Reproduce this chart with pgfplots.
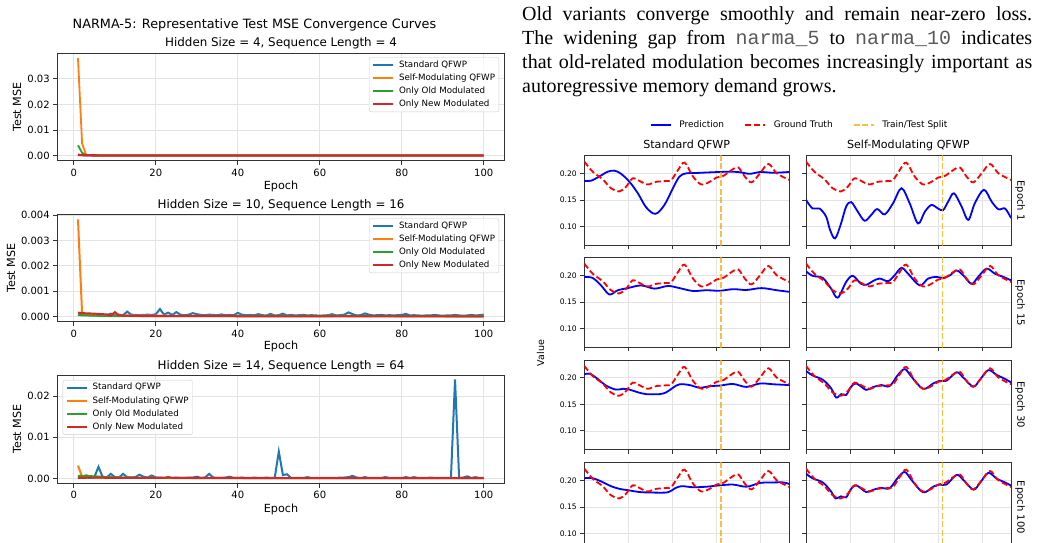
\documentclass[border=0pt]{standalone}
\usepackage{fontspec}
\setmainfont{DejaVu Sans}
\newfontfamily\seriffont{Liberation Serif}
\newfontfamily\monofont{Liberation Mono}
\usepackage{pgfplots}
\pgfplotsset{compat=1.18}
\usepackage{pgfplotstable}

\definecolor{tabblue}{HTML}{1F77B4}
\definecolor{taborange}{HTML}{FF7F0E}
\definecolor{tabgreen}{HTML}{2CA02C}
\definecolor{tabred}{HTML}{D62728}
\definecolor{splitc}{HTML}{FFA500}

% ---------- ground truth (shared by all right panels) ----------
\pgfplotstableread{
x y
0 0.222
3.8 0.203
8.3 0.189
12.1 0.172
15.9 0.166
19 0.175
22 0.1906
25.8 0.184
28.8 0.179
32.6 0.184
37.2 0.1856
39.5 0.1875
42.5 0.206
45.5 0.220
49.3 0.194
53.1 0.179
56.9 0.184
59.9 0.192
63 0.195
66.8 0.206
69.8 0.211
72.8 0.194
75.9 0.183
79.7 0.200
83.5 0.2175
87.3 0.200
93 0.1875
}\gt

\pgfplotstableread{
x y
0 0.186
3 0.186
6.8 0.194
10.6 0.203
13.7 0.205
16.7 0.199
20.5 0.184
24.3 0.1625
28.1 0.136
32.3 0.124
36.4 0.141
40.2 0.172
43.2 0.194
46.3 0.200
50.8 0.2006
58.4 0.202
66 0.203
70.6 0.202
75.1 0.199
79.7 0.2025
85.7 0.201
93 0.2025
}\pSa

\pgfplotstableread{
x y
0 0.150
3 0.134
6.1 0.134
9.1 0.119
10.9 0.094
13.2 0.078
15.9 0.106
18.2 0.1375
20.5 0.146
23.5 0.128
26.6 0.111
29.6 0.122
32.3 0.133
35.7 0.123
39.5 0.144
43.3 0.172
47 0.144
50.8 0.106
53.9 0.128
56.9 0.1406
59.9 0.134
62.2 0.131
64.5 0.147
67.1 0.1625
70.6 0.1375
73.6 0.1125
76.6 0.144
80.7 0.169
84.2 0.147
87.3 0.1325
90.3 0.134
93 0.116
}\pMa

\pgfplotstableread{
x y
0 0.197
3.8 0.195
7.6 0.181
11.4 0.164
15.2 0.172
19.7 0.176
25.8 0.181
31.9 0.175
37.9 0.180
43.2 0.176
49.3 0.1706
55.4 0.172
61.5 0.171
67.5 0.174
73.6 0.1725
80.4 0.176
87.3 0.172
93 0.169
}\pSb

\pgfplotstableread{
x y
0 0.2075
3 0.199
7.6 0.195
11.4 0.175
14.4 0.158
18.2 0.1875
21.2 0.199
25 0.184
27.6 0.1825
30.3 0.189
33.4 0.194
37.2 0.189
40.2 0.200
43.3 0.214
46.3 0.203
51.6 0.181
55.4 0.194
59.2 0.197
62.2 0.195
65.3 0.200
68.3 0.209
71.3 0.200
75.1 0.184
78.1 0.197
81.9 0.2125
85.7 0.203
89.5 0.197
93 0.1906
}\pMb

\pgfplotstableread{
x y
0 0.206
2.3 0.2075
5.3 0.200
9.9 0.185
14.4 0.1775
17.5 0.179
20.5 0.1775
24.3 0.1725
28.1 0.169
34.1 0.169
37.2 0.1725
40.2 0.181
43.2 0.1875
47.8 0.186
52.4 0.181
56.9 0.184
61.5 0.185
67.5 0.188
73.6 0.1825
79.7 0.189
85.7 0.1875
93 0.186
}\pSc

\pgfplotstableread{
x y
0 0.2125
3 0.204
7.6 0.196
11.4 0.180
13.7 0.1625
16 0.169
18.2 0.1675
20.5 0.183
22.8 0.189
27.3 0.177
30.3 0.182
34.1 0.186
37.9 0.184
41.7 0.205
44.8 0.216
47.8 0.202
53.1 0.179
57.7 0.189
60.7 0.194
63.7 0.194
68.3 0.210
71.3 0.200
75.9 0.183
78.9 0.196
82.7 0.214
86.5 0.205
90.3 0.1975
93 0.191
}\pMc

\pgfplotstableread{
x y
0 0.204
3.8 0.204
7.6 0.198
12.1 0.189
15.9 0.184
20.5 0.181
25 0.178
31.1 0.177
37.9 0.1775
40.9 0.1845
44 0.189
49.3 0.187
55.4 0.188
61.5 0.1906
67.5 0.192
73.6 0.188
79.7 0.195
85.7 0.196
90.3 0.196
93 0.193
}\pSd

\pgfplotstableread{
x y
0 0.2125
3 0.2037
7.6 0.196
11.4 0.179
13.4 0.166
15.9 0.170
18.2 0.168
20.5 0.184
22.8 0.1906
27.3 0.178
30.3 0.182
34.1 0.186
37.9 0.185
41.7 0.205
44.8 0.2156
47.8 0.201
53.1 0.1775
57.7 0.188
60.7 0.192
63.7 0.192
68.3 0.210
71.3 0.201
75.9 0.1825
78.9 0.195
82.7 0.214
86.5 0.203
90.3 0.196
93 0.190
}\pMd

\pgfplotsset{
  base/.style={scale only axis, axis line style={black!80, line width=1pt},
    every tick/.style={black!80, line width=0.9pt}, tick align=outside,
    xtick pos=left, ytick pos=left, grid=major,
    major grid style={gray!22, line width=0.8pt},
    /pgf/number format/assume math mode=true, clip=true},
  lft/.style={base, width=446.3pt, xmin=-3.95, xmax=104.95, xtick={0,20,...,100},
    major tick length=4.5pt,
    tick label style={font=\fontsize{10}{12}\selectfont}, scaled y ticks=false,
    legend cell align=left,
    legend style={draw=black!20, rounded corners=2pt, fill=white, fill opacity=0.8,
      text opacity=1, draw opacity=1, font=\fontsize{8.7}{10}\selectfont,
      inner xsep=3pt, inner ysep=2.5pt, row sep=3.4pt,
      nodes={inner sep=0.8pt, text height=6.4pt, text depth=1.8pt},
      /tikz/every odd column/.append style={column sep=4pt}},
    legend image code/.code={\draw[#1, line width=2pt] (0pt,0pt) -- (20pt,0pt);}},
  rgt/.style={base, width=205pt, height=89.6pt, xmin=0, xmax=93, ymin=0.065, ymax=0.233,
    xtick={0,20,40,60,80}, xticklabels={}, ytick={0.10,0.15,0.20},
    major tick length=4pt,
    yticklabel style={font=\fontsize{7.6}{9}\selectfont,
      /pgf/number format/fixed, /pgf/number format/fixed zerofill,
      /pgf/number format/precision=2}},
  pred/.style={blue, line width=1.8pt, smooth, tension=0.55},
  gtl/.style={red, line width=1.8pt, dash pattern=on 6pt off 3pt, smooth, tension=0.55},
  spl/.style={splitc, opacity=0.75, line width=1.6pt, dash pattern=on 6pt off 2.5pt},
}

\begin{document}
\begin{tikzpicture}
\useasboundingbox (0pt,0pt) rectangle (1038pt,-543pt);
\clip (0pt,0pt) rectangle (1038pt,-543pt);

% ================= LEFT: plot 1 =================
\begin{axis}[lft, at={(57.7pt,-53.3pt)}, anchor=north west, height=107.4pt,
  ymin=-0.0019, ymax=0.0399, ytick={0,0.01,0.02,0.03},
  yticklabel style={/pgf/number format/fixed, /pgf/number format/fixed zerofill, /pgf/number format/precision=2},
  legend style={at={(0.9888,0.9628)}, anchor=north east}]
\addplot[tabblue, line width=1.8pt] coordinates {(1,0.0002) (2,0.0002) (3,0.0001) (10,0.0001) (100,0.0001)};
\addlegendentry{Standard QFWP}
\addplot[taborange, line width=1.8pt] coordinates {(1,0.038) (2,0.0048) (3,0.0003) (4,0.0002) (10,0.0001) (100,0.0001)};
\addlegendentry{Self-Modulating QFWP}
\addplot[tabgreen, line width=1.8pt] coordinates {(1,0.0041) (2,0.0012) (3,0.0002) (10,0.0001) (100,0.0001)};
\addlegendentry{Only Old Modulated}
\addplot[tabred, line width=2.3pt] coordinates {(1,0.0004) (2,0.0003) (3,0.0002) (10,0.0001) (100,0.0001)};
\addlegendentry{Only New Modulated}
\end{axis}

% ================= LEFT: plot 2 =================
\begin{axis}[lft, at={(57.7pt,-214.3pt)}, anchor=north west, height=107.4pt,
  ymin=-0.000197, ymax=0.00403, ytick={0,0.001,0.002,0.003,0.004},
  yticklabel style={/pgf/number format/fixed, /pgf/number format/fixed zerofill, /pgf/number format/precision=3},
  legend style={at={(0.9888,0.9628)}, anchor=north east}]
\addplot[tabblue, line width=2pt] coordinates {
(1,0.00008) (2,0.00007) (3,0.00006) (4,0.00006) (5,0.00005) (6,0.00006) (7,0.00005) (8,0.00006) (9,0.00012) (10,0.00005)
(11,0.00008) (12,0.00006) (13,0.0002) (14,0.00008) (15,0.00007) (16,0.00006) (17,0.00007) (18,0.00008) (19,0.00007) (20,0.0001)
(21,0.0003) (22,0.00008) (23,0.00016) (24,0.00007) (25,0.00018) (26,0.00008) (27,0.00006) (28,0.00008) (29,0.00014) (30,0.0001)
(31,0.00007) (32,0.00006) (33,0.00008) (34,0.00007) (35,0.00006) (36,0.00009) (37,0.00006) (38,0.00007) (39,0.00006) (40,0.00015)
(41,0.00008) (42,0.00006) (43,0.00007) (44,0.00006) (45,0.0001) (46,0.00006) (47,0.00005) (48,0.00011) (49,0.00005) (50,0.00006)
(51,0.00012) (52,0.00005) (53,0.00007) (54,0.00005) (55,0.00006) (56,0.00007) (57,0.00005) (58,0.00006) (59,0.00005) (60,0.00004)
(61,0.00005) (62,0.00006) (63,0.0001) (64,0.00005) (65,0.00006) (66,0.00008) (67,0.00017) (68,0.0001) (69,0.00005) (70,0.00006)
(71,0.00013) (72,0.00008) (73,0.00005) (74,0.00006) (75,0.00007) (76,0.00005) (77,0.00006) (78,0.00005) (79,0.00006) (80,0.00007)
(81,0.00011) (82,0.00005) (83,0.00006) (84,0.00005) (85,0.00004) (86,0.00005) (87,0.00005) (88,0.00007) (89,0.00005) (90,0.00004)
(91,0.00005) (92,0.00005) (93,0.00007) (94,0.00005) (95,0.00004) (96,0.00005) (97,0.00007) (98,0.00005) (99,0.00006) (100,0.00008)};
\addlegendentry{Standard QFWP}
\addplot[taborange, line width=2pt] coordinates {(1,0.00383) (2,0.00012) (3,0.0001) (5,0.00006) (10,0.00004) (100,0.00002)};
\addlegendentry{Self-Modulating QFWP}
\addplot[tabgreen, line width=2pt] coordinates {(1,0.00006) (5,0.00004) (10,0.00002) (30,0.00002) (75,0.00003) (100,0.00001)};
\addlegendentry{Only Old Modulated}
\addplot[tabred, line width=2pt] coordinates {(1,0.00016) (2,0.00014) (5,0.00012) (7,0.0001) (8,0.00009) (9,0.00004) (10,0.00018) (11,0.00005) (15,0.00003) (20,0.00002) (100,0.00001)};
\addlegendentry{Only New Modulated}
\end{axis}

% ================= LEFT: plot 3 =================
\begin{axis}[lft, at={(57.7pt,-375pt)}, anchor=north west, height=108.3pt,
  ymin=-0.0012, ymax=0.0251, ytick={0,0.01,0.02},
  yticklabel style={/pgf/number format/fixed, /pgf/number format/fixed zerofill, /pgf/number format/precision=2},
  legend style={at={(0.0112,0.954)}, anchor=north west}]
\addplot[tabblue, line width=2pt] coordinates {
(1,0.0002) (2,0.0003) (3,0.0002) (4,0.0001) (5,0.0003) (6,0.0028) (7,0.0004) (8,0.0002) (9,0.0011) (10,0.0003)
(11,0.0002) (12,0.0011) (13,0.0003) (14,0.0002) (15,0.0003) (16,0.0009) (17,0.0004) (18,0.0002) (19,0.0007) (20,0.0002)
(21,0.0002) (22,0.0001) (23,0.0002) (24,0.0001) (25,0.0002) (26,0.0001) (27,0.0001) (28,0.0002) (29,0.0002) (30,0.0004)
(31,0.0001) (32,0.0002) (33,0.0011) (34,0.0002) (35,0.0001) (36,0.0001) (37,0.0002) (38,0.0004) (39,0.0001) (40,0.0001)
(41,0.0002) (42,0.0001) (43,0.0001) (44,0.0002) (45,0.0001) (46,0.0001) (47,0.0002) (48,0.0001) (49,0.0001) (50,0.0065)
(51,0.0008) (52,0.001) (53,0.0001) (54,0.0001) (55,0.0001) (56,0.0001) (57,0.0003) (58,0.0001) (59,0.0001) (60,0.0001)
(61,0.0001) (62,0.0001) (63,0.0001) (64,0.0001) (65,0.0002) (66,0.0002) (67,0.0003) (68,0.0006) (69,0.0002) (70,0.0001)
(71,0.0003) (72,0.0001) (73,0.0001) (74,0.0001) (75,0.0001) (76,0.0003) (77,0.0001) (78,0.0001) (79,0.0001) (80,0.0001)
(81,0.0003) (82,0.0001) (83,0.0003) (84,0.0001) (85,0.0001) (86,0.0001) (87,0.0002) (88,0.0001) (89,0.0001) (90,0.0001)
(91,0.0001) (92,0.0001) (93,0.024) (94,0.0001) (95,0.0002) (96,0.0005) (97,0.0001) (98,0.0003) (99,0.0001) (100,0.0001)};
\addlegendentry{Standard QFWP}
\addplot[taborange, line width=2pt] coordinates {(1,0.0031) (2,0.0004) (3,0.0008) (4,0.0004) (5,0.0002) (6,0.0002) (8,0.0001) (100,0.00005)};
\addlegendentry{Self-Modulating QFWP}
\addplot[tabgreen, line width=2pt] coordinates {(1,0.0006) (5,0.0005) (8,0.0003) (12,0.0002) (18,0.0001) (19,0.0003) (20,0.0001) (30,0.00005) (100,0.00003)};
\addlegendentry{Only Old Modulated}
\addplot[tabred, line width=2pt] coordinates {(1,0.0001) (5,0.0002) (10,0.0001) (22,0.0001) (23,0.0003) (24,0.0001) (100,0.00005)};
\addlegendentry{Only New Modulated}
\end{axis}

% ================= RIGHT grid =================
% row 1
\begin{axis}[rgt, at={(584.3pt,-155.7pt)}, anchor=north west,
  legend columns=3,
  legend style={draw=none, fill=none, at={(1.05,1.343)}, anchor=center,
    font=\fontsize{9}{11}\selectfont,
    /tikz/every odd column/.append style={column sep=6pt},
    /tikz/every even column/.append style={column sep=18pt}},
  legend image code/.code={\draw[#1] (0pt,0pt) -- (20pt,0pt);}]
\addplot[pred] table {\pSa}; \addlegendentry{Prediction}
\addplot[gtl] table {\gt}; \addlegendentry{Ground Truth}
\addplot[spl] coordinates {(62,0) (62,0.3)}; \addlegendentry{Train/Test Split}
\end{axis}
\begin{axis}[rgt, at={(806pt,-155.7pt)}, anchor=north west, yticklabels={}]
\addplot[pred] table {\pMa};
\addplot[gtl] table {\gt};
\addplot[spl] coordinates {(62,0) (62,0.3)};
\end{axis}
% row 2
\begin{axis}[rgt, at={(584.3pt,-257.7pt)}, anchor=north west]
\addplot[pred] table {\pSb};
\addplot[gtl] table {\gt};
\addplot[spl] coordinates {(62,0) (62,0.3)};
\end{axis}
\begin{axis}[rgt, at={(806pt,-257.7pt)}, anchor=north west, yticklabels={}]
\addplot[pred] table {\pMb};
\addplot[gtl] table {\gt};
\addplot[spl] coordinates {(62,0) (62,0.3)};
\end{axis}
% row 3
\begin{axis}[rgt, at={(584.3pt,-360pt)}, anchor=north west]
\addplot[pred] table {\pSc};
\addplot[gtl] table {\gt};
\addplot[spl] coordinates {(62,0) (62,0.3)};
\end{axis}
\begin{axis}[rgt, at={(806pt,-360pt)}, anchor=north west, yticklabels={}]
\addplot[pred] table {\pMc};
\addplot[gtl] table {\gt};
\addplot[spl] coordinates {(62,0) (62,0.3)};
\end{axis}
% row 4
\begin{axis}[rgt, at={(584.3pt,-462.7pt)}, anchor=north west]
\addplot[pred] table {\pSd};
\addplot[gtl] table {\gt};
\addplot[spl] coordinates {(62,0) (62,0.3)};
\end{axis}
\begin{axis}[rgt, at={(806pt,-462.7pt)}, anchor=north west, yticklabels={}]
\addplot[pred] table {\pMd};
\addplot[gtl] table {\gt};
\addplot[spl] coordinates {(62,0) (62,0.3)};
\end{axis}

% ================= texts =================
\node[font=\fontsize{12.8}{15}\selectfont] at (254.5pt,-25pt) {NARMA-5: Representative Test MSE Convergence Curves};
\node[font=\fontsize{11.9}{14}\selectfont] at (281pt,-43pt) {Hidden Size = 4, Sequence Length = 4};
\node[font=\fontsize{11.9}{14}\selectfont] at (281pt,-205pt) {Hidden Size = 10, Sequence Length = 16};
\node[font=\fontsize{11.9}{14}\selectfont] at (281pt,-366.7pt) {Hidden Size = 14, Sequence Length = 64};
\node[font=\fontsize{11.2}{13}\selectfont] at (281pt,-186.7pt) {Epoch};
\node[font=\fontsize{11.2}{13}\selectfont] at (281pt,-346.7pt) {Epoch};
\node[font=\fontsize{11.2}{13}\selectfont] at (281pt,-509pt) {Epoch};
\node[font=\fontsize{11.2}{13}\selectfont, rotate=90] at (17pt,-107pt) {Test MSE};
\node[font=\fontsize{11.2}{13}\selectfont, rotate=90] at (11pt,-268pt) {Test MSE};
\node[font=\fontsize{11.2}{13}\selectfont, rotate=90] at (17pt,-429pt) {Test MSE};

\node[font=\fontsize{11.1}{13}\selectfont] at (686.7pt,-145pt) {Standard QFWP};
\node[font=\fontsize{11.1}{13}\selectfont] at (908.3pt,-145pt) {Self-Modulating QFWP};
\node[font=\fontsize{9.5}{11}\selectfont, rotate=90] at (540.7pt,-353pt) {Value};
\node[font=\fontsize{10}{12}\selectfont, rotate=-90] at (1020pt,-200.5pt) {Epoch 1};
\node[font=\fontsize{10}{12}\selectfont, rotate=-90] at (1020pt,-302.7pt) {Epoch 15};
\node[font=\fontsize{10}{12}\selectfont, rotate=-90] at (1020pt,-404.7pt) {Epoch 30};
\node[font=\fontsize{10}{12}\selectfont, rotate=-90] at (1020pt,-507.3pt) {Epoch 100};

\node[anchor=north west, inner sep=0pt, align=left,
  font=\seriffont\fontsize{20}{24}\selectfont] at (522pt,-6pt) {%
  \makebox[510pt][s]{Old variants converge smoothly and remain near-zero loss.}\\
  \makebox[510pt][s]{The widening gap from {\monofont\color{black!65}narma\_5} to {\monofont\color{black!65}narma\_10} indicates}\\
  \makebox[510pt][s]{that old-related modulation becomes increasingly important as}\\
  autoregressive memory demand grows.};
\end{tikzpicture}
\end{document}
